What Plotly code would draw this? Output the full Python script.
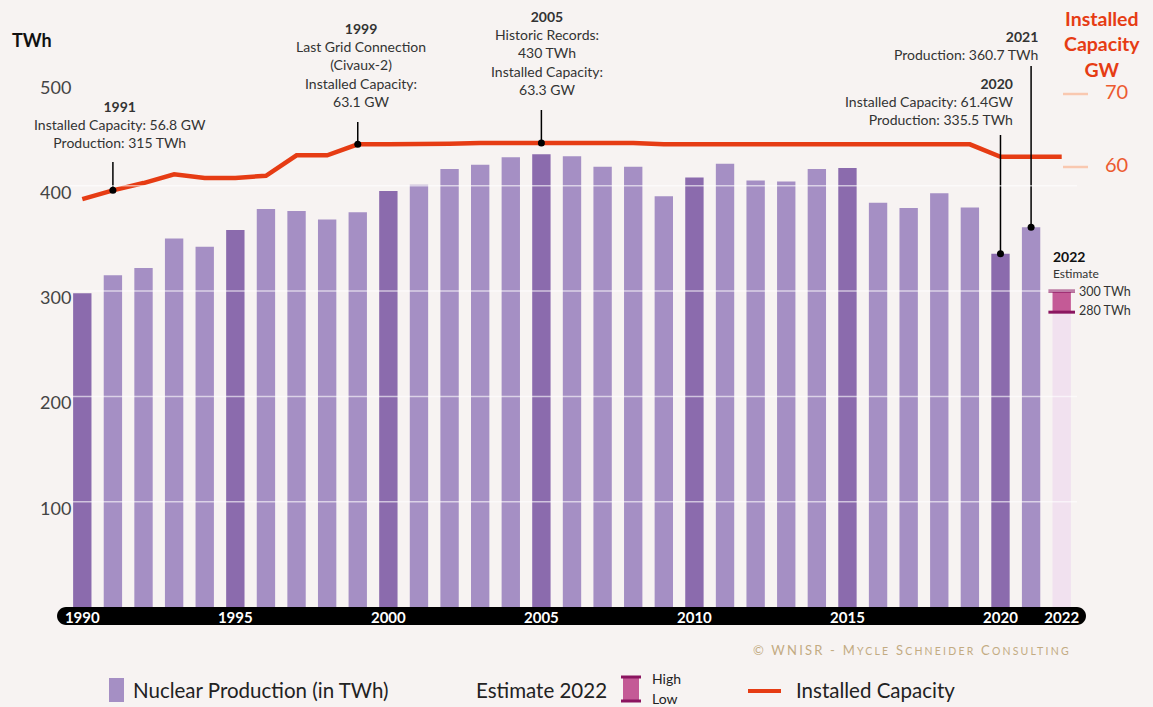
import plotly.graph_objects as go

# ---------------- data ----------------
years = list(range(1990, 2022))
production = [298, 315, 322, 350, 342, 358, 378, 376, 368, 375,
              395, 401, 416, 420, 427, 430, 428, 418, 418, 390,
              408, 421, 405, 404, 416, 417, 384, 379, 393, 379.5,
              335.5, 360.7]
highlight_years = [1990, 1995, 2000, 2005, 2010, 2015, 2020]
cap_years = list(range(1990, 2023))
capacity = [55.6, 56.8, 57.8, 59.0, 58.5, 58.5, 58.8, 61.6, 61.6, 63.1,
            63.1, 63.1, 63.2, 63.3, 63.3, 63.3, 63.3, 63.3, 63.3, 63.1,
            63.1, 63.1, 63.1, 63.1, 63.1, 63.1, 63.1, 63.1, 63.1, 63.1,
            61.4, 61.4, 61.4]
est_year = 2022
est_low = 280
est_high = 300
x_ticks = [1990, 1995, 2000, 2005, 2010, 2015, 2020, 2022]
y_ticks = [100, 200, 300, 400, 500]
y2_ticks = [60, 70]

# ---------------- style ----------------
BG = "#f7f3f2"
C_LIGHT = "#a58fc4"
C_DARK = "#8b6bad"
C_EST_BAR = "#f1e1ef"
C_EST_BOX = "#c45a96"
C_EST_CAP = "#8b1560"
C_LINE = "#e63c14"
C_RIGHT = "#ec5a30"
FONT = "Lato"
TXT = "#333333"

W, H = 1153, 707
ML, MR, MT, MB = 67, 76, 30, 100
PW = W - ML - MR
PH = H - MT - MB
Y_PX = 1.053          # pixels per TWh
Y2_PX = 7.3           # pixels per GW
Y2_60 = 167           # pixel row of 60 GW

def px(x):
    return (x - ML) / PW

def py(y):
    return (H - MB - y) / PH

ymax = PH / Y_PX
y2min = 60 - (H - MB - Y2_60) / Y2_PX
y2max = 60 + (Y2_60 - MT) / Y2_PX

fig = go.Figure()

bar_colors = [C_DARK if y in highlight_years else C_LIGHT for y in years]
fig.add_trace(go.Bar(x=years, y=production, marker_color=bar_colors,
                     marker_line_width=0, width=0.6, hoverinfo="skip",
                     showlegend=False))
fig.add_trace(go.Bar(x=[est_year], y=[est_low], marker_color=C_EST_BAR,
                     marker_line_width=0, width=0.6, hoverinfo="skip",
                     showlegend=False))
fig.add_trace(go.Bar(x=[est_year], y=[est_high - est_low], base=[est_low],
                     marker_color=C_EST_BOX, marker_line_width=0, width=0.6,
                     hoverinfo="skip", showlegend=False))
fig.add_trace(go.Scatter(x=[est_year, est_year], y=[est_low, est_high],
                         mode="markers",
                         marker=dict(symbol="line-ew", size=19,
                                     line=dict(color=C_EST_CAP, width=3)),
                         hoverinfo="skip", showlegend=False))

fig.add_trace(go.Scatter(x=cap_years, y=capacity, yaxis="y2", mode="lines",
                         line=dict(color=C_LINE, width=4.5),
                         hoverinfo="skip", showlegend=False))

# pointer lines and dots
cap_of = dict(zip(cap_years, capacity))
prod_of = dict(zip(years, production))
shapes = []
pointers_y2 = [(1991, 60 + (Y2_60 - 162) / Y2_PX),
               (1999, 60 + (Y2_60 - 122) / Y2_PX),
               (2005, 60 + (Y2_60 - 110) / Y2_PX)]
for yr, top in pointers_y2:
    shapes.append(dict(type="line", xref="x", yref="y2", x0=yr, x1=yr,
                       y0=cap_of[yr], y1=top, line=dict(color="black", width=1.5),
                       layer="above"))
pointers_y = [(2020, (H - MB - 135) / Y_PX), (2021, (H - MB - 66) / Y_PX)]
for yr, top in pointers_y:
    shapes.append(dict(type="line", xref="x", yref="y", x0=yr, x1=yr,
                       y0=prod_of[yr], y1=top, line=dict(color="black", width=1.5),
                       layer="above"))
fig.add_trace(go.Scatter(x=[p[0] for p in pointers_y2],
                         y=[cap_of[p[0]] for p in pointers_y2], yaxis="y2",
                         mode="markers", marker=dict(color="black", size=7),
                         hoverinfo="skip", showlegend=False))
fig.add_trace(go.Scatter(x=[p[0] for p in pointers_y],
                         y=[prod_of[p[0]] for p in pointers_y],
                         mode="markers", marker=dict(color="black", size=7),
                         hoverinfo="skip", showlegend=False))

# grid lines above bars
for v in [100, 200, 300, 400]:
    shapes.append(dict(type="line", xref="paper", yref="y", x0=0, x1=1,
                       y0=v, y1=v, line=dict(color="rgba(255,255,255,0.6)", width=1.5),
                       layer="above"))

# black pill axis
r = 9
k = 0.5523 * r
left, right = -10 + r, (1086 - ML) - r
path = (f"M {left},0 L {right},0 "
        f"C {right + k},0 {right + r},{-r + k} {right + r},{-r} "
        f"C {right + r},{-r - k} {right + k},{-2 * r} {right},{-2 * r} "
        f"L {left},{-2 * r} "
        f"C {left - k},{-2 * r} {left - r},{-r - k} {left - r},{-r} "
        f"C {left - r},{-r + k} {left - k},0 {left},0 Z")
shapes.append(dict(type="path", xref="paper", yref="paper", xsizemode="pixel",
                   ysizemode="pixel", xanchor=0, yanchor=0, path=path,
                   fillcolor="black", line=dict(width=0), layer="below"))

# right axis tick marks
for v in y2_ticks:
    shapes.append(dict(type="line", xref="paper", yref="y2", x0=px(1063), x1=px(1088),
                       y0=v, y1=v, line=dict(color="#f9c8b0", width=2.5)))

# legend shapes
shapes.append(dict(type="rect", xref="paper", yref="paper", x0=px(109), x1=px(124),
                   y0=py(702), y1=py(678), fillcolor=C_LIGHT, line=dict(width=0)))
shapes.append(dict(type="rect", xref="paper", yref="paper", x0=px(623), x1=px(639),
                   y0=py(701), y1=py(677), fillcolor=C_EST_BOX, line=dict(width=0)))
for yy in (677, 701):
    shapes.append(dict(type="line", xref="paper", yref="paper", x0=px(621), x1=px(641),
                       y0=py(yy), y1=py(yy), line=dict(color=C_EST_CAP, width=3)))
shapes.append(dict(type="line", xref="paper", yref="paper", x0=px(748), x1=px(781),
                   y0=py(691), y1=py(691), line=dict(color=C_LINE, width=4)))

ann = []

def text(x, y, t, size=14, color=TXT, xanchor="center", yanchor="middle",
         align="center", weight=None):
    f = dict(family=FONT, size=size, color=color)
    if weight:
        f["weight"] = weight
    ann.append(dict(x=px(x), y=py(y), xref="paper", yref="paper", text=t,
                    showarrow=False, xanchor=xanchor, yanchor=yanchor,
                    align=align, font=f))

# y tick labels
for v in y_ticks:
    ann.append(dict(x=px(73), y=v, xref="paper", yref="y", text=str(v),
                    showarrow=False, xanchor="right", yanchor="middle", yshift=-6,
                    font=dict(family=FONT, size=18, color="#444444")))
# y2 tick labels
for v in y2_ticks:
    ann.append(dict(x=px(1103), y=v, xref="paper", yref="y2", text=str(v),
                    showarrow=False, xanchor="left", yanchor="middle", yshift=3,
                    font=dict(family=FONT, size=20, color=C_RIGHT)))

text(10, 40, "<b>TWh</b>", size=18, color="#111111", xanchor="left")
text(1102, 44, "<b>Installed<br>Capacity<br>GW</b>", size=19.5, color=C_LINE)

text(120, 96, "<b>1991</b><br>Installed Capacity: 56.8 GW<br>Production: 315 TWh",
     yanchor="top")
text(361, 18, "<b>1999</b><br>Last Grid Connection<br>(Civaux-2)<br>Installed Capacity:<br>63.1 GW",
     yanchor="top")
text(547, 6, "<b>2005</b><br>Historic Records:<br>430 TWh<br>Installed Capacity:<br>63.3 GW",
     yanchor="top")
text(1040, 26, "<b>2021</b><br>Production: 360.7 TWh", xanchor="right", align="right",
     yanchor="top")
text(1015, 73, "<b>2020</b><br>Installed Capacity: 61.4GW<br>Production: 335.5 TWh",
     xanchor="right", align="right", yanchor="top")
text(1051, 256, "<b>2022</b>", size=14, color="#111111", xanchor="left")
text(1051, 273, "Estimate", size=12, xanchor="left")
text(1077, 291, "300 TWh", size=12.5, xanchor="left")
text(1077, 310, "280 TWh", size=12.5, xanchor="left")

# legend texts
text(131, 690, "Nuclear Production (in TWh)", size=20.5, color="#222222", xanchor="left")
text(474, 690, "Estimate 2022", size=20.5, color="#222222", xanchor="left")
text(650, 678, "High", size=14, color="#222222", xanchor="left")
text(650, 698, "Low", size=14, color="#222222", xanchor="left")
text(794, 690, "Installed Capacity", size=20.5, color="#222222", xanchor="left")

sc = "font-size:10.5px"
ls = "letter-spacing:2.2px"
copy = (f"<span style='{ls}'>© WNISR - M<span style='{sc};{ls}'>YCLE</span> "
        f"S<span style='{sc};{ls}'>CHNEIDER</span> C<span style='{sc};{ls}'>ONSULTING</span></span>")
text(1073, 650, copy, size=13, color="#c3ab82", xanchor="right")

fig.update_layout(
    width=W, height=H, paper_bgcolor=BG, plot_bgcolor=BG,
    margin=dict(l=ML, r=MR, t=MT, b=MB),
    barmode="overlay", showlegend=False,
    xaxis=dict(range=[1989.5, 2022.5], tickvals=x_ticks, ticks="", showgrid=False,
               zeroline=False, showline=False,
               tickfont=dict(family=FONT, size=15, color="white", weight="bold"),
               ticklabelstandoff=0),
    yaxis=dict(range=[0, ymax], showgrid=False, zeroline=False, showline=False,
               showticklabels=False),
    yaxis2=dict(range=[y2min, y2max], overlaying="y", side="right", showgrid=False,
                zeroline=False, showline=False, showticklabels=False),
    shapes=shapes, annotations=ann,
)

fig.write_html("out.html",
               config={"displayModeBar": False},
               post_script="document.body.style.margin='0';"
                           "document.body.style.overflow='hidden';"
                           "document.body.style.background='#f7f3f2';")
